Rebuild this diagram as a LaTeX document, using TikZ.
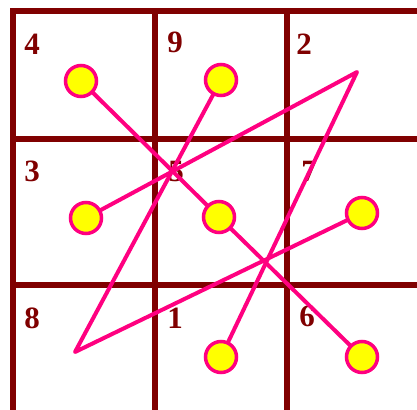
\documentclass[tikz,border=0pt]{standalone}
\usepackage{fontspec}
\setmainfont{Liberation Serif}
\definecolor{grid}{HTML}{800000}
\definecolor{pink}{HTML}{FF0080}
\definecolor{dotfill}{HTML}{FFFF00}
\begin{document}
\begin{tikzpicture}[x=1pt,y=-1pt,
  gridline/.style={draw=grid,line width=5.5pt},
  path/.style={draw=pink,line width=4pt,line join=round,line cap=round},
  dot/.style={circle,draw=pink,fill=dotfill,line width=3.5pt,minimum size=31pt,inner sep=0pt},
  num/.style={text=grid,font=\fontsize{31}{31}\selectfont\bfseries,inner sep=0pt}]
\useasboundingbox[fill=white] (0,0) rectangle (417,409);
% grid
\draw[gridline,line cap=rect] (13,420) -- (13,11) -- (430,11);
\draw[gridline] (155,11) -- (155,420);
\draw[gridline] (287,11) -- (287,420);
\draw[gridline] (13,139) -- (430,139);
\draw[gridline] (13,285) -- (430,285);
% labels
\node[num] (n4) at (32,44) {4};
\node[num] (n9) at (175,42) {9};
\node[num] (n2) at (304,44) {2};
\node[num] (n3) at (32,171) {3};
\node[num] (n5) at (176,172) {5};
\node[num] (n7) at (309,171) {7};
\node[num] (n8) at (32,318) {8};
\node[num] (n1) at (175,318) {1};
\node[num] (n6) at (307,316) {6};
% points
\coordinate (p4) at (81,81);
\coordinate (p9) at (221,80);
\coordinate (p3) at (86,218);
\coordinate (p5) at (219,217);
\coordinate (p7) at (362,213);
\coordinate (p1) at (221,357);
\coordinate (p6) at (362,357);
\coordinate (v2) at (357,72);
\coordinate (v8) at (75,352);
% lines
\draw[path] (p4) -- (p5) -- (p6);
\draw[path] (p9) -- (v8) -- (p7);
\draw[path] (p3) -- (v2) -- (p1);
% dots
\foreach \n in {4,9,3,5,7,1,6} \node[dot] (c\n) at (p\n) {};
\end{tikzpicture}
\end{document}
